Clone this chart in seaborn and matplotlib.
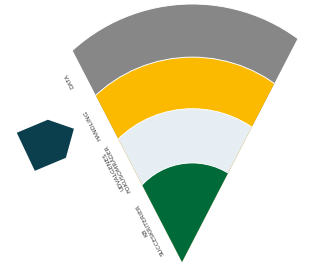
import numpy as np
import pandas as pd
import matplotlib
matplotlib.use("Agg")
import matplotlib.pyplot as plt
from matplotlib.patches import Circle, Polygon
from matplotlib import font_manager
import seaborn as sns

# layers of the fan, from the tip outwards
layers = ['KB\nSUCCESKRITERIER', 'UDVALGENES\nFOKUSOMRÅDER', 'HANDLING', 'DATA']
thickness = [1.92, 1.05, 1.0, 1.03]
colors = ['#006b38', '#e6edf3', '#fbba00', '#878787']

# decorative pentagon badge
badge_x = [-2.6]
badge_y = [2.33]

half_angle = 27.35          # opening of the fan (deg from vertical)
px = 51.6                   # pixels per unit

sns.set_theme(style='white')
names = {f.name for f in font_manager.fontManager.ttflist}
label_font = 'Liberation Sans Narrow' if 'Liberation Sans Narrow' in names else 'DejaVu Sans'
label_size = 5.2 if label_font == 'Liberation Sans Narrow' else 4.5
plt.rcParams['font.family'] = [label_font, 'DejaVu Sans']

fig = plt.figure(figsize=(3.11, 2.70), dpi=100)
ax = fig.add_axes([0, 0, 1, 1])
ax.axis('off')

a = np.radians(half_angle)
left_dir = np.array([-np.sin(a), np.cos(a)])
right_dir = np.array([np.sin(a), np.cos(a)])
wedge = Polygon([(0, 0), tuple(left_dir * 10), tuple(right_dir * 10)],
                closed=True, transform=ax.transData, facecolor='none', edgecolor='none')
ax.add_patch(wedge)

radii = np.cumsum(thickness)


def arc_circle(R):
    # every boundary is a circle a bit smaller than R, centred above the tip
    return np.array([0.2, 0.31 * R]), 0.69 * R


def hit_left(R):
    c, rho = arc_circle(R)
    dc = left_dir @ c
    return dc + np.sqrt(dc ** 2 - c @ c + rho ** 2)


# outer layers first, inner ones on top
for R, col in list(zip(radii, colors))[::-1]:
    c, rho = arc_circle(R)
    circ = Circle(c, rho, facecolor=col, edgecolor='white', linewidth=0.7)
    ax.add_patch(circ)
    circ.set_clip_path(wedge)

# labels along the left edge, at the middle of each band
normal = np.array([-np.cos(a), -np.sin(a)])
inner = 0.0
for R, name in zip(radii, layers):
    t_out = hit_left(R)
    t_mid = (inner + t_out) / 2
    inner = t_out
    pos = left_dir * t_mid + normal * 0.32
    ax.text(pos[0], pos[1], name, rotation=90 + half_angle, rotation_mode='anchor',
            ha='center', va='center', multialignment='center',
            fontsize=label_size, color='#3a3a3a', linespacing=1.1)

# pentagon badge
verts = [(-31, 9), (0, 22), (26, 13), (18, -16), (-13, -29), (-31, 9)]
badge = pd.DataFrame({'x': badge_x, 'y': badge_y})
sns.scatterplot(data=badge, x='x', y='y', marker=verts, s=2000,
                color='#0b3f4e', edgecolor='none', ax=ax, legend=False)

ax.set_xlim(-182 / px, (311 - 182) / px)
ax.set_ylim((262 - 270) / px, 262 / px)
fig.savefig('out.png', dpi=100)
